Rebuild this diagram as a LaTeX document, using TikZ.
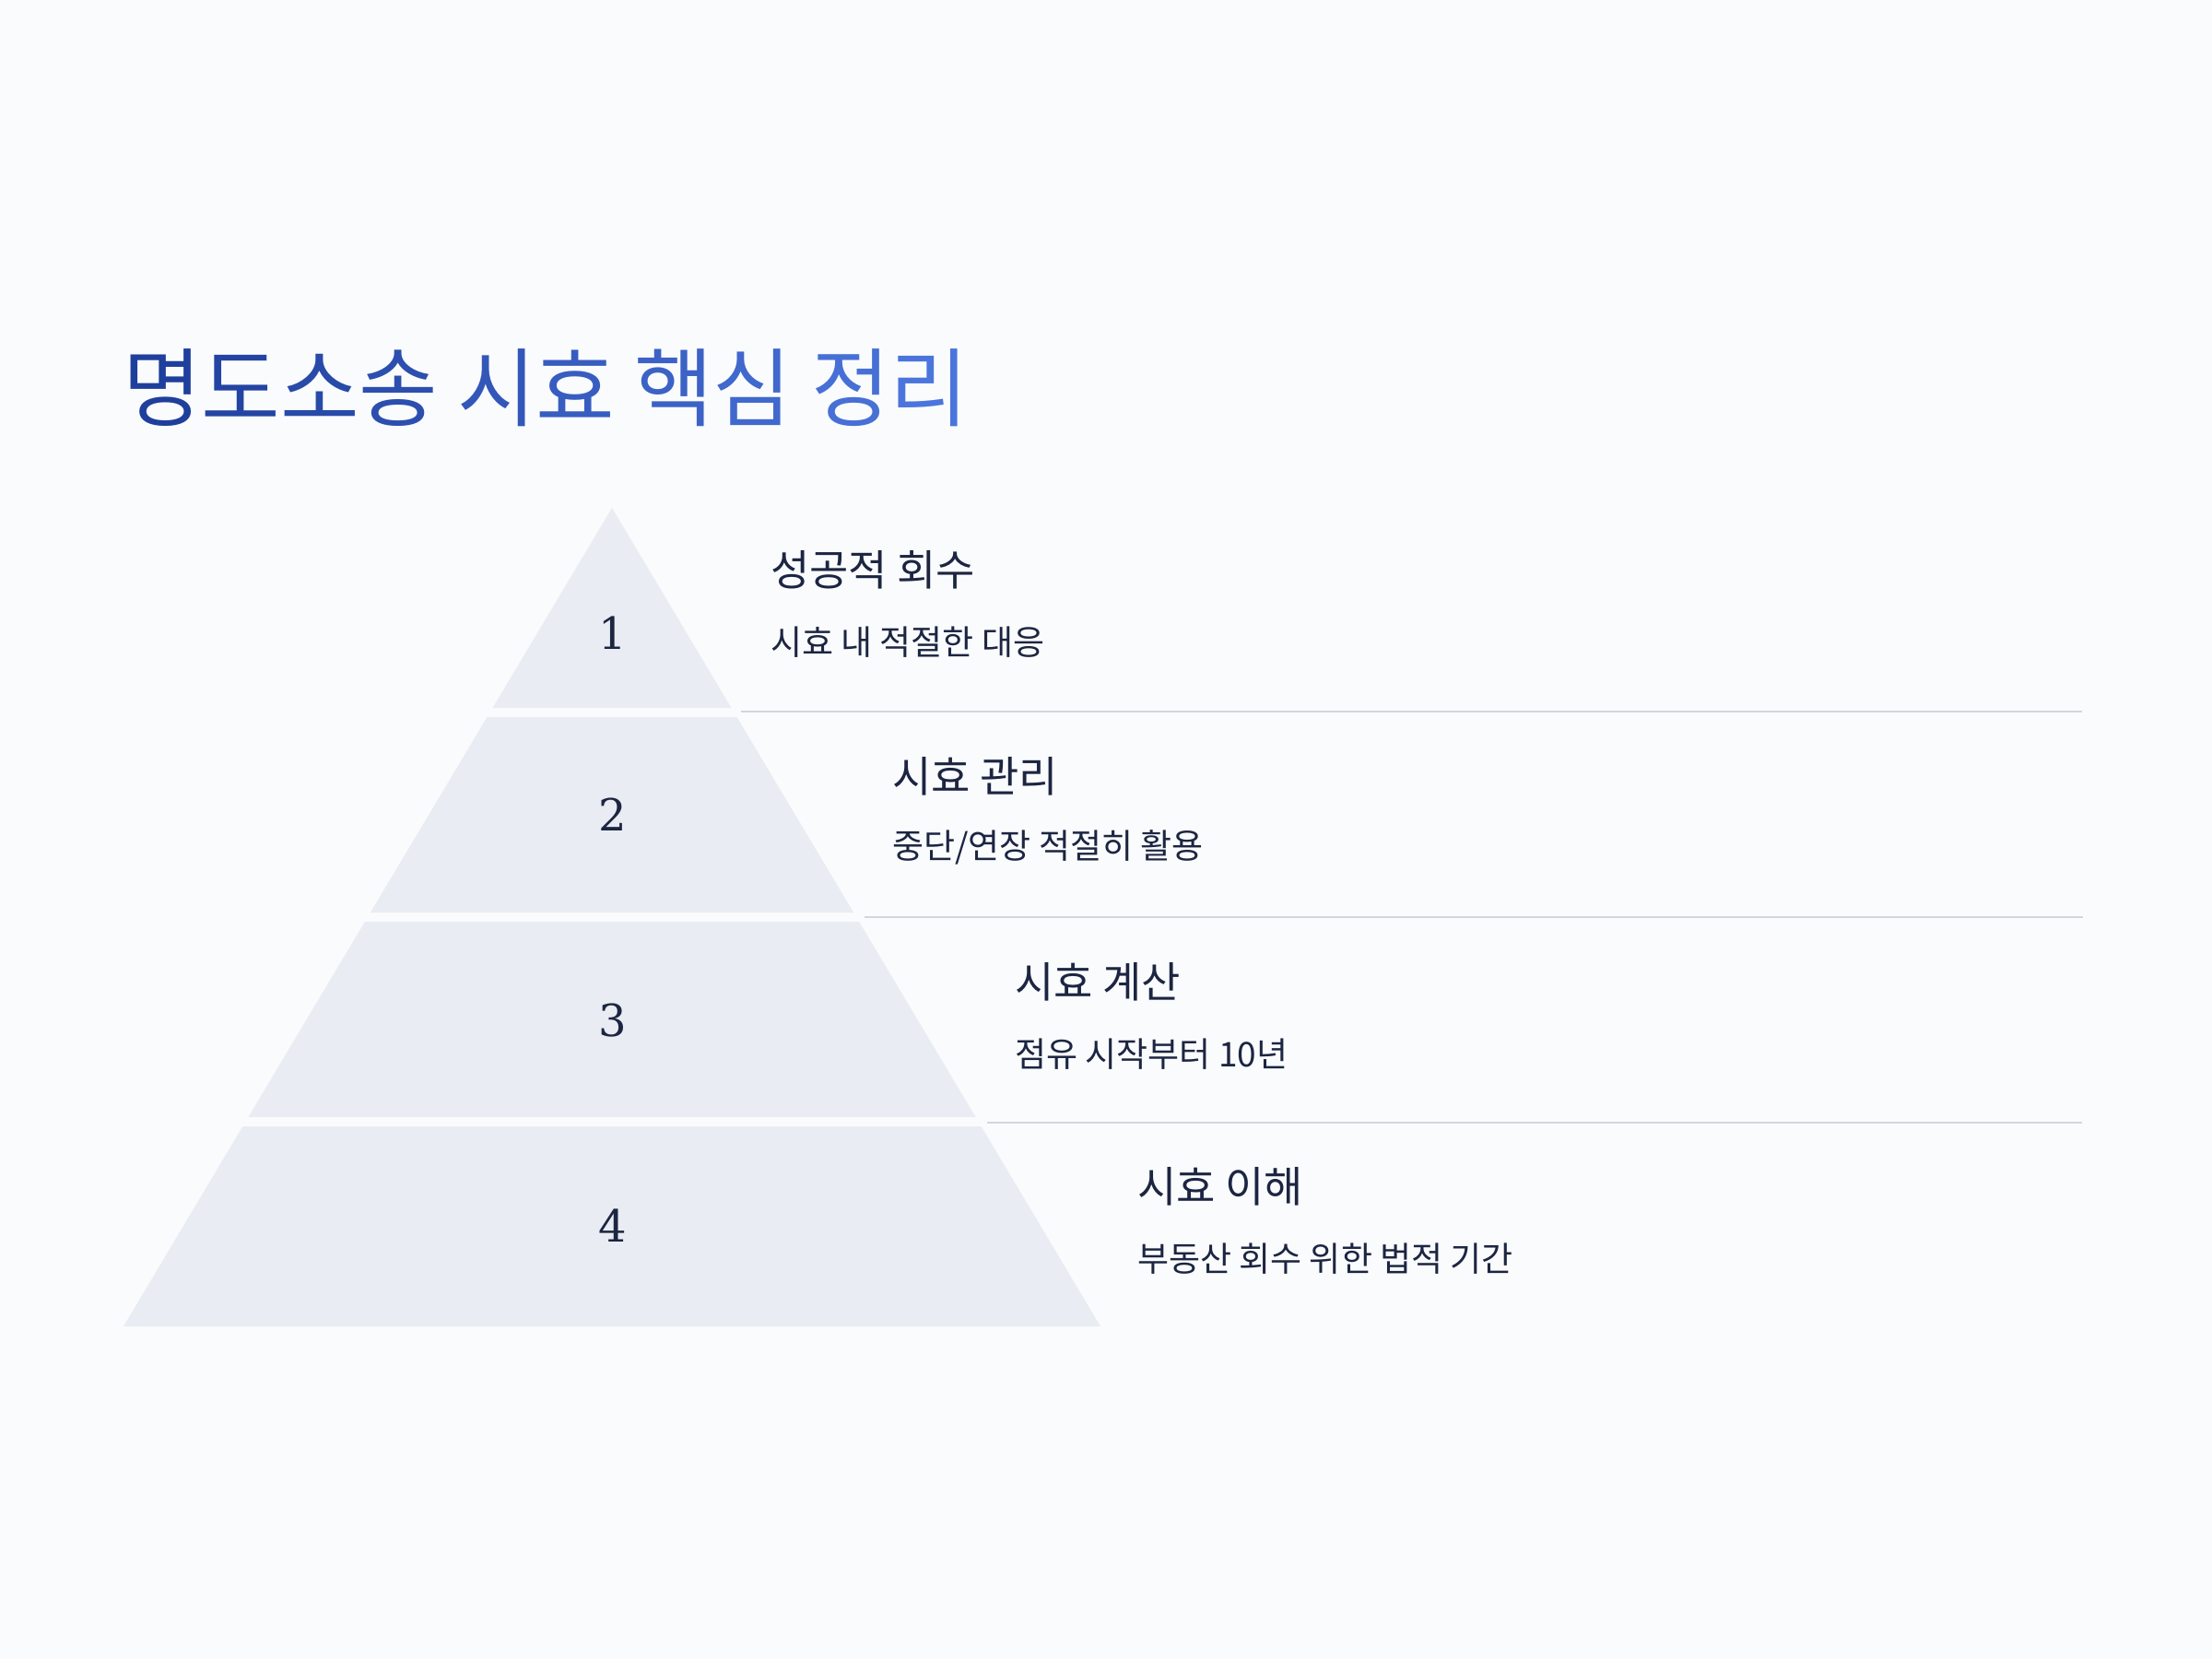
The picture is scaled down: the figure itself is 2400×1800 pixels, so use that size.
\documentclass[tikz,border=0pt]{standalone}
\usepackage{fontspec}
\newfontfamily\kr{Noto Sans CJK KR}
\newfontfamily\numf{DejaVu Serif}
\definecolor{bgc}{HTML}{FAFBFD}
\definecolor{layerc}{HTML}{E9ECF2}
\definecolor{linec}{HTML}{D2D5DC}
\definecolor{txtc}{HTML}{1C2541}
\definecolor{tA}{HTML}{1F3F9C}
\definecolor{tB}{HTML}{4B75DD}
\tikzset{
  layer/.style={fill=layerc, draw=none},
  sep/.style={draw=linec, line width=2pt},
  num/.style={font=\numf\fontsize{48}{56}\selectfont, text=txtc, inner sep=0pt},
  head/.style={font=\kr\fontsize{46}{54}\selectfont, text=txtc, anchor=west, inner sep=0pt},
  sub/.style={font=\kr\fontsize{37}{44}\selectfont, text=txtc, anchor=west, inner sep=0pt},
}
\begin{document}
\begin{tikzpicture}[x=1pt,y=-1pt]
\fill[bgc] (0,0) rectangle (2400,1800);
\useasboundingbox (0,0) rectangle (2400,1800);
% title
\node[anchor=west, inner sep=0pt, font=\kr\fontsize{93}{108}\selectfont] (title) at (133,421)
 {\textcolor{tA}{명}\textcolor{tB!10!tA}{도}\textcolor{tB!20!tA}{소}\textcolor{tB!30!tA}{송} \textcolor{tB!45!tA}{시}\textcolor{tB!55!tA}{효} \textcolor{tB!65!tA}{핵}\textcolor{tB!75!tA}{심} \textcolor{tB!90!tA}{정}\textcolor{tB}{리}};
% pyramid layers
\fill[layer] (664,551) -- (793.5,768) -- (534.5,768) -- cycle;
\fill[layer] (528.5,778) -- (799.5,778) -- (926.1,990) -- (401.9,990) -- cycle;
\fill[layer] (395.9,1000) -- (932.1,1000) -- (1058.6,1212) -- (269.4,1212) -- cycle;
\fill[layer] (263.4,1222) -- (1064.6,1222) -- (1194,1439) -- (134,1439) -- cycle;
% numbers
\node[num] (n1) at (665,687) {1};
\node[num] (n2) at (665,884) {2};
\node[num] (n3) at (665,1107) {3};
\node[num] (n4) at (665,1330) {4};
% separators
\coordinate (l1a) at (804,772); \coordinate (l1b) at (2259,772);
\coordinate (l2a) at (938,995); \coordinate (l2b) at (2260,995);
\coordinate (l3a) at (1071,1218); \coordinate (l3b) at (2259,1218);
\draw[sep] (l1a) -- (l1b);
\draw[sep] (l2a) -- (l2b);
\draw[sep] (l3a) -- (l3b);
% texts
\node[head] (h1) at (836,618) {성공적 회수};
\node[sub] (s1) at (836,697) {시효 내 적절한 대응};
\node[head] (h2) at (968,842) {시효 관리};
\node[sub] (s2) at (968,919) {중단/연장 적절히 활용};
\node[head] (h3) at (1101,1065) {시효 계산};
\node[sub] (s3) at (1101,1144) {점유 시작부터 10년};
\node[head] (h4) at (1234,1287) {시효 이해};
\node[sub] (s4) at (1234,1366) {부동산 회수 위한 법적 기간};
\end{tikzpicture}
\end{document}
